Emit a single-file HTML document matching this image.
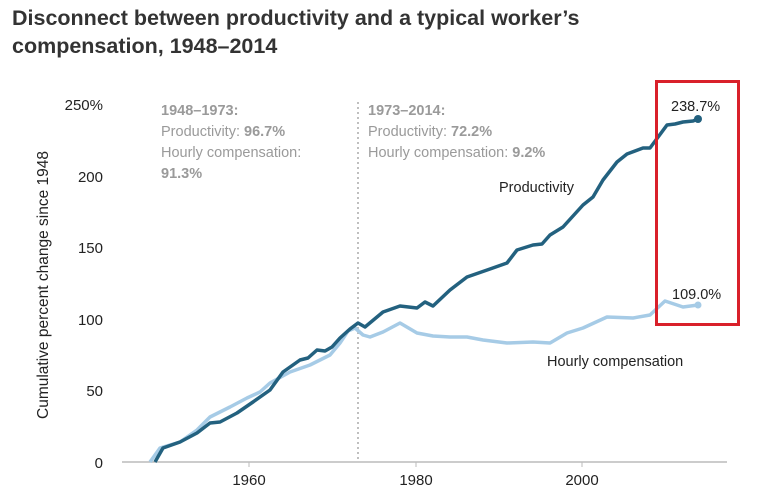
<!DOCTYPE html>
<html><head><meta charset="utf-8"><style>
body{margin:0;background:#fff;width:767px;height:502px;overflow:hidden;font-family:"Liberation Sans",sans-serif}
h1{position:absolute;left:12px;top:4px;margin:0;font-size:21.5px;line-height:28px;color:#333;font-weight:bold}
</style></head><body>
<h1>Disconnect between productivity and a typical worker’s<br>compensation, 1948–2014</h1>
<svg width="767" height="502" style="position:absolute;left:0;top:0">
<g font-family="Liberation Sans, sans-serif" font-size="15" fill="#222" text-anchor="end">
<text x="103" y="110">250%</text><text x="103" y="182">200</text><text x="103" y="253">150</text><text x="103" y="325">100</text><text x="103" y="396">50</text><text x="103" y="468">0</text>
</g>
<text transform="translate(48,285) rotate(-90)" text-anchor="middle" font-size="15.5" fill="#222">Cumulative percent change since 1948</text>
<line x1="122" y1="462" x2="727" y2="462" stroke="#bbb" stroke-width="1.5"/>
<g stroke="#bbb"><line x1="249" y1="462" x2="249" y2="467"/><line x1="416" y1="462" x2="416" y2="467"/><line x1="582" y1="462" x2="582" y2="467"/></g>
<g font-size="15" fill="#222" text-anchor="middle"><text x="249" y="485">1960</text><text x="416" y="485">1980</text><text x="582" y="485">2000</text></g>
<line x1="358" y1="102" x2="358" y2="460" stroke="#aaa" stroke-width="1.5" stroke-dasharray="2,3"/>
<g font-size="14.5" fill="#9a9a9a">
<text x="161" y="115" font-weight="bold">1948–1973:</text>
<text x="161" y="136">Productivity: <tspan font-weight="bold">96.7%</tspan></text>
<text x="161" y="157">Hourly compensation:</text>
<text x="161" y="178" font-weight="bold">91.3%</text>
<text x="368" y="115" font-weight="bold">1973–2014:</text>
<text x="368" y="136">Productivity: <tspan font-weight="bold">72.2%</tspan></text>
<text x="368" y="157">Hourly compensation: <tspan font-weight="bold">9.2%</tspan></text>
</g>
<polyline fill="none" stroke="#a6cbe6" stroke-width="3.5" stroke-linejoin="round" points="150,462 160,448 180,442 197,430 210,417 220,412 230,407 247,398 260,392 270,383 290,372 310,365 330,355 340,343 348,331 355,328 363,335 370,337 383,332 400,323 417,333 433,336 450,337 467,337 483,340 507,343 533,342 550,343 567,333 583,328 607,317 633,318 650,315 665,301 683,307 698,305"/>
<circle cx="698" cy="305" r="3.5" fill="#a6cbe6"/>
<polyline fill="none" stroke="#23617f" stroke-width="3.5" stroke-linejoin="round" points="155,462 163,448 180,442 197,433 210,423 220,422 237,413 253,402 270,390 283,372 300,360 308,358 317,350 325,351 332,347 340,338 350,329 358,323 365,327 383,312 400,306 417,308 425,302 433,306 450,290 467,277 490,269 507,263 517,250 533,245 542,244 550,235 563,227 583,205 593,197 603,180 617,162 627,154 643,148 650,148 667,125 675,124 683,122 693,121 698,119"/>
<circle cx="698" cy="119" r="4" fill="#23617f"/>
<g font-size="14.5" fill="#222">
<text x="499" y="192">Productivity</text>
<text x="547" y="366">Hourly compensation</text>
<text x="671" y="111">238.7%</text>
<text x="672" y="299">109.0%</text>
</g>
<rect x="656.5" y="81.5" width="82" height="243" fill="none" stroke="#d9202a" stroke-width="3"/>
</svg>
</body></html>
